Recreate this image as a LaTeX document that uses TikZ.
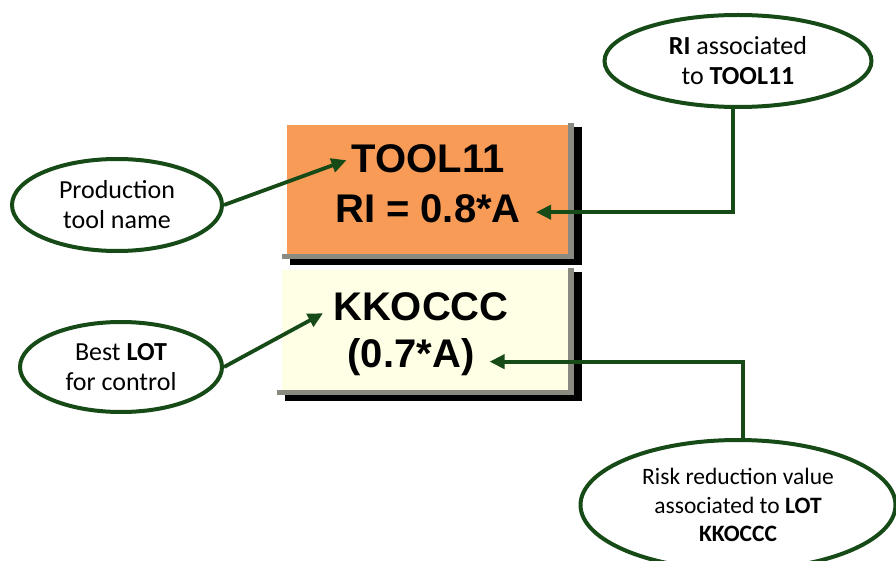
\documentclass[tikz,border=0pt]{standalone}
\usepackage{fontspec}
\setmainfont{Carlito}
\newfontfamily\arialfont{Liberation Sans}
\usetikzlibrary{arrows.meta,shapes.geometric,calc}
\definecolor{dgreen}{HTML}{164A16}
\definecolor{boxorange}{HTML}{F79B57}
\definecolor{boxcream}{HTML}{FFFFE6}
\definecolor{shadowgray}{HTML}{8A8A80}
\begin{document}
\begin{tikzpicture}[x=1pt,y=-1pt,
  callout/.style={ellipse, draw=dgreen, line width=4pt, fill=white, inner sep=0pt,
    align=center, text=black},
  bigtext/.style={font=\arialfont\bfseries\fontsize{40}{40}\selectfont, inner sep=0pt, anchor=base},
  panel/.style={draw=none, inner sep=0pt},
  link/.style={draw=dgreen, line width=3.8pt, -{Triangle[length=15pt,width=14pt]}},
]
\useasboundingbox (0,0) rectangle (896,561);

% boxes
\node[panel, minimum width=281pt, minimum height=129pt] (topbox) at (427.5,189.5) {};
\node[panel, minimum width=286pt, minimum height=120pt] (botbox) at (425,330) {};
\foreach \b/\c in {topbox/boxorange, botbox/boxcream}{
  \fill[black] ($(\b.north west)+(3,2)$) rectangle ($(\b.south east)+(14,11)$);
  \fill[shadowgray] ($(\b.north east)+(0,-2)$) rectangle ($(\b.south east)+(6,5)$);
  \fill[shadowgray] ($(\b.south west)+(-5,0)$) rectangle ($(\b.south east)+(6,5)$);
  \fill[\c] (\b.north west) rectangle (\b.south east);
}

% box texts
\node[bigtext] (tool) at (428,173) {TOOL11};
\node[bigtext] (ri) at (428,223) {RI = 0.8*A};
\node[bigtext] (kk) at (421,320) {KKOCCC};
\node[bigtext] (val) at (411,367) {(0.7*A)};

% callouts
\node[callout, minimum width=210pt, minimum height=92pt,
  font=\fontsize{26}{30}\selectfont] (prod) at (117,205) {Production\\tool name};
\node[callout, minimum width=202pt, minimum height=90pt,
  font=\fontsize{26}{30}\selectfont] (lot) at (121,367) {Best \textbf{LOT}\\for control};
\node[callout, minimum width=267pt, minimum height=92pt,
  font=\fontsize{26}{30}\selectfont] (riell) at (738,61) {\textbf{RI} associated\\to \textbf{TOOL11}};
\node[callout, minimum width=315pt, minimum height=130pt,
  font=\fontsize{23.5}{28.5}\selectfont] (risk) at (738,505)
  {Risk reduction value\\associated to \textbf{LOT}\\\textbf{KKOCCC}};

% connectors
\draw[link] (prod.east) -- ([shift={(-5,1)}]tool.west);
\draw[link] (lot.east) -- ([shift={(-10,7)}]kk.west);
\draw[link] ([xshift=-5pt]riell.south) |- ([shift={(15,3)}]ri.east);
\draw[link] ([xshift=5pt]risk.north) |- ([shift={(15,5)}]val.east);
\end{tikzpicture}
\end{document}
